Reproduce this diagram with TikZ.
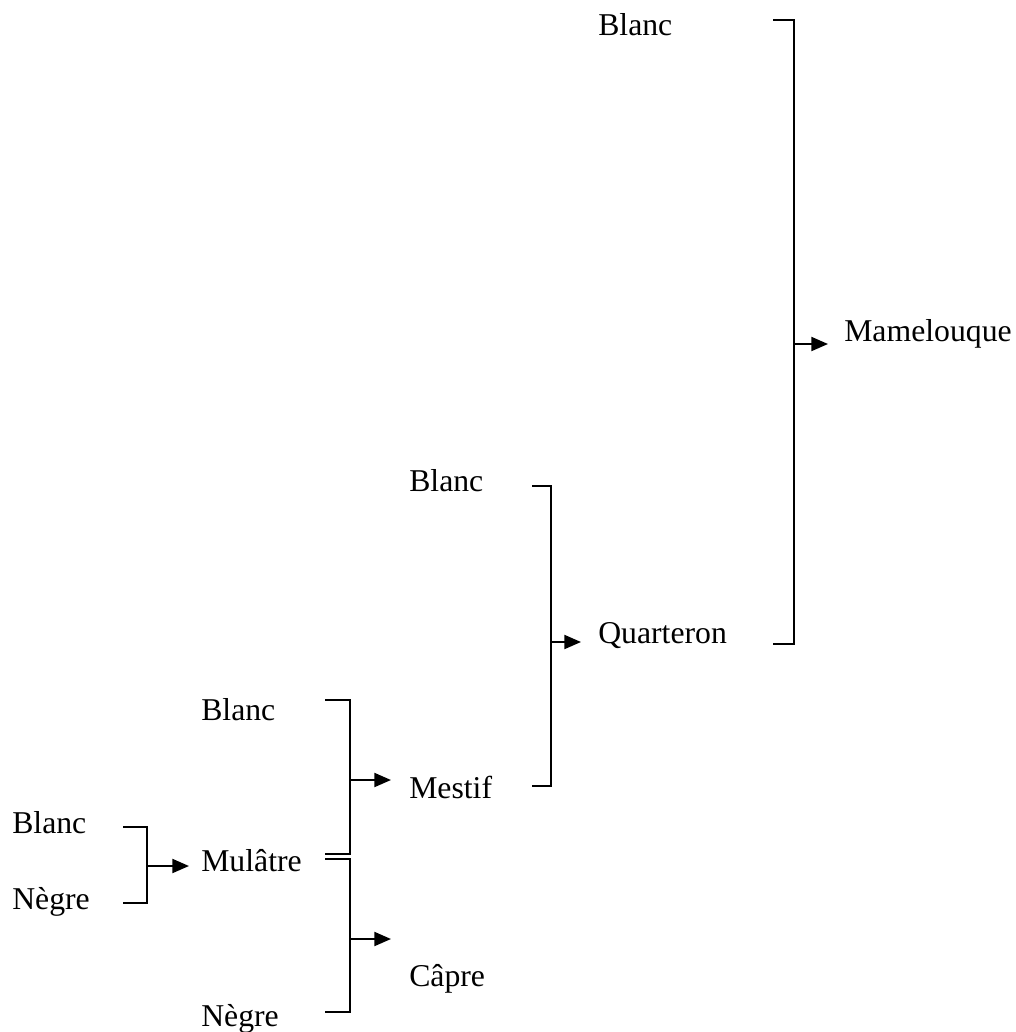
\documentclass[tikz,border=0pt]{standalone}
\usepackage{fontspec}
\setmainfont{Liberation Serif}
\usetikzlibrary{arrows.meta}
\tikzset{
  lbl/.style={anchor=base west, inner sep=0pt, font=\fontsize{23.8}{28}\selectfont},
  brk/.style={line width=1.5pt, line cap=butt, line join=miter},
  arr/.style={line width=1.5pt, -{Triangle[length=12.5pt,width=10.5pt]}}
}
\begin{document}
\begin{tikzpicture}[x=0.75pt,y=-0.75pt]
\useasboundingbox (0,0) rectangle (1016,1032);
% labels
\node[lbl] (blanc1) at (598,35) {Blanc};
\node[lbl] (mam) at (844,341) {Mamelouque};
\node[lbl] (blanc2) at (409,491) {Blanc};
\node[lbl] (quart) at (598,643) {Quarteron};
\node[lbl] (blanc3) at (201,720) {Blanc};
\node[lbl] (mestif) at (409,798) {Mestif};
\node[lbl] (blanc4) at (12,833) {Blanc};
\node[lbl] (mul) at (201,871) {Mulâtre};
\node[lbl] (negre1) at (12,909) {Nègre};
\node[lbl] (capre) at (409,986) {Câpre};
\node[lbl] (negre2) at (201,1026) {Nègre};
% bracket corners and arrow tips
\coordinate (a1) at (773,20);  \coordinate (a2) at (794,20);
\coordinate (a3) at (794,644); \coordinate (a4) at (773,644);
\coordinate (am) at (794,344); \coordinate (tm) at (828,344);
\coordinate (b1) at (532,486); \coordinate (b2) at (551,486);
\coordinate (b3) at (551,786); \coordinate (b4) at (532,786);
\coordinate (bm) at (551,642); \coordinate (tq) at (581,642);
\coordinate (c1) at (325,700); \coordinate (c2) at (350,700);
\coordinate (c3) at (350,854); \coordinate (c4) at (325,854);
\coordinate (cm) at (350,780); \coordinate (tc) at (391,780);
\coordinate (d1) at (325,859); \coordinate (d2) at (350,859);
\coordinate (d3) at (350,1012); \coordinate (d4) at (325,1012);
\coordinate (dm) at (350,939); \coordinate (td) at (391,939);
\coordinate (e1) at (123,827); \coordinate (e2) at (147,827);
\coordinate (e3) at (147,903); \coordinate (e4) at (123,903);
\coordinate (em) at (147,866); \coordinate (te) at (189,866);
% brackets
\draw[brk] (a1) -- (a2) -- (a3) -- (a4);
\draw[brk] (b1) -- (b2) -- (b3) -- (b4);
\draw[brk] (c1) -- (c2) -- (c3) -- (c4);
\draw[brk] (d1) -- (d2) -- (d3) -- (d4);
\draw[brk] (e1) -- (e2) -- (e3) -- (e4);
% arrows
\draw[arr] (am) -- (tm);
\draw[arr] (bm) -- (tq);
\draw[arr] (cm) -- (tc);
\draw[arr] (dm) -- (td);
\draw[arr] (em) -- (te);
\end{tikzpicture}
\end{document}
